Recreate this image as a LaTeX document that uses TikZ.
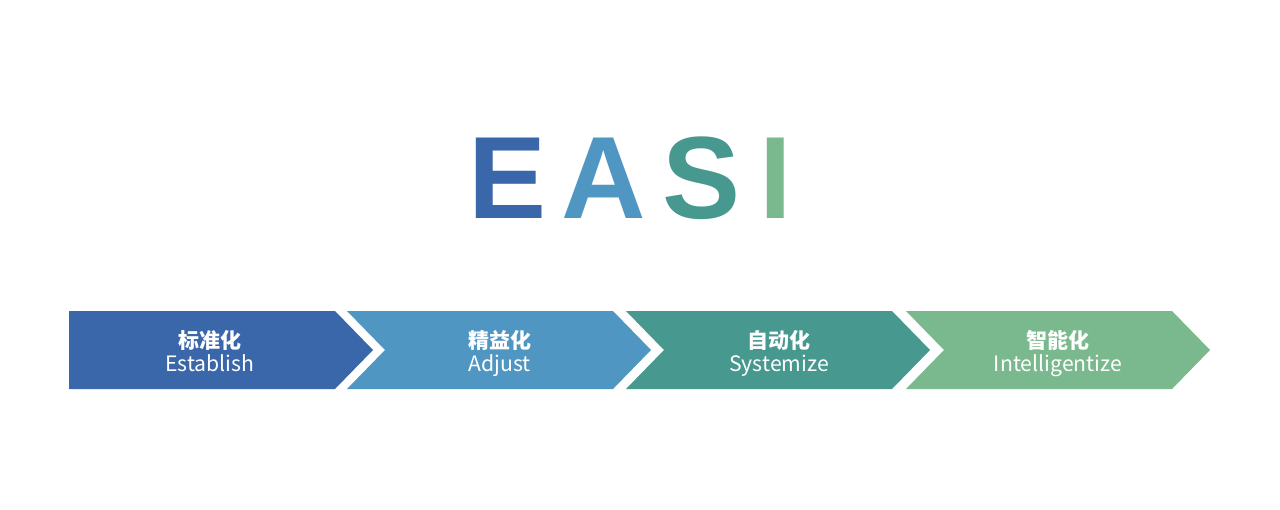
\documentclass[tikz,border=0pt]{standalone}
\usepackage{fontspec}
\setmainfont{Liberation Sans}
\newfontfamily\cjk{Noto Sans CJK SC}
\usetikzlibrary{positioning}

\definecolor{easiE}{HTML}{3A67AA}
\definecolor{easiA}{HTML}{5096C2}
\definecolor{easiS}{HTML}{47988F}
\definecolor{easiI}{HTML}{7AB98D}

\tikzset{
  letter/.style={anchor=base, inner sep=0pt, font=\fontsize{117}{120}\selectfont\bfseries},
  zhlabel/.style={inner sep=0pt, text=white, font=\cjk\bfseries\fontsize{21}{22}\selectfont},
  enlabel/.style={inner sep=0pt, anchor=base, text=white, font=\cjk\fontsize{21.2}{22}\selectfont},
}

\begin{document}
\begin{tikzpicture}[x=1pt, y=-1pt]
    \useasboundingbox[fill=white] (0,0) rectangle (1280,509);

    % EASI title
    \node [letter, text=easiE] (E) at (507.5,218) {E};
    \node [letter, text=easiA] (A) at (603.5,218) {A};
    \node [letter, text=easiS] (S) at (701.5,218) {S};
    \node [letter, text=easiI] (I) at (775.5,218) {I};

    % First arrow, no notch
    \fill [easiE] (69,311) -- (335,311) -- (373,350) -- (335,389) -- (69,389) -- cycle;

    % Notched arrows
    \foreach \s/\c in {347/easiA, 626/easiS, 906/easiI} {
        \fill [\c] (\s,311) -- (\s+266,311) -- (\s+304,350) -- (\s+266,389)
            -- (\s,389) -- (\s+38,350) -- cycle;
    }

    % Labels
    \node [zhlabel] (zh1) at (210,340) {标准化};
    \node [enlabel] (en1) at (210,371) {Establish};
    \node [zhlabel] (zh2) at (499.5,340) {精益化};
    \node [enlabel] (en2) at (499.5,371) {Adjust};
    \node [zhlabel] (zh3) at (779,340) {自动化};
    \node [enlabel] (en3) at (779,371) {Systemize};
    \node [zhlabel] (zh4) at (1058,340) {智能化};
    \node [enlabel] (en4) at (1058,371) {Intelligentize};
\end{tikzpicture}
\end{document}
